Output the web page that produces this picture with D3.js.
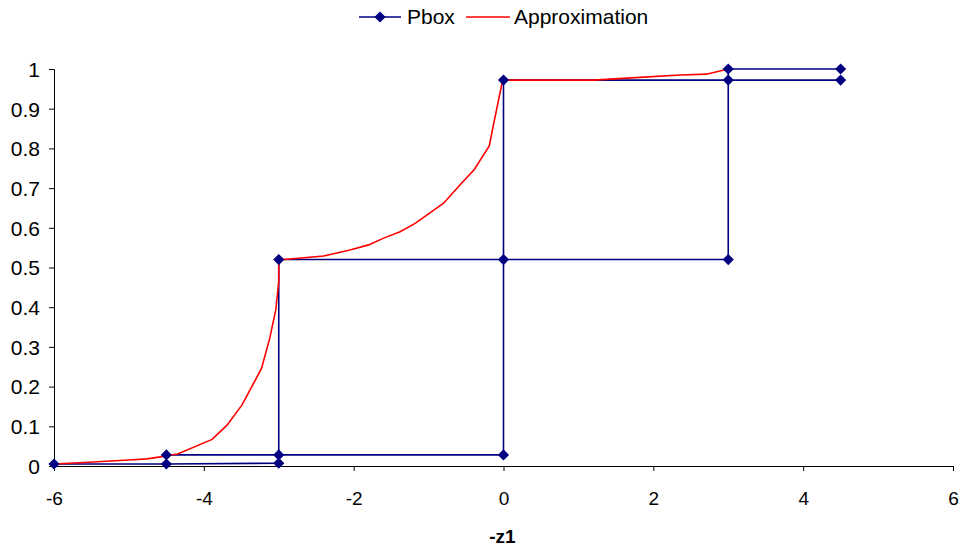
<!DOCTYPE html>
<html><head><meta charset="utf-8">
<script src="https://cdn.jsdelivr.net/npm/d3@7"></script>
<style>body{margin:0;background:#fff;} text{font-family:"Liberation Sans",Arial,sans-serif;}</style>
</head><body>
<svg id="c" width="963" height="550"></svg>
<script>
// Pbox: two step-bound polylines
const pboxUpperX = [-6, -4.5, -3, -3, 0, 3, 3, 4.5];
const pboxUpperY = [0.005, 0.005, 0.007, 0.52, 0.52, 0.52, 1.0, 1.0];
const pboxLowerX = [-4.5, -3, 0, 0, 3, 4.5];
const pboxLowerY = [0.028, 0.028, 0.028, 0.972, 0.972, 0.972];
// Approximation curve
const approxX = [-6, -5.6, -5.3, -5.0, -4.76, -4.58, -4.5, -4.35, -3.89, -3.69, -3.49, -3.23, -3.12, -3.04, -3.0, -3.0,
  -2.4, -2.05, -1.8, -1.6, -1.38, -1.18, -1.0, -0.8, -0.6, -0.39, -0.19, -0.13, -0.02, 0,
  1.2, 1.82, 2.36, 2.71, 3.0];
const approxY = [0.005, 0.009, 0.012, 0.015, 0.018, 0.023, 0.026, 0.030, 0.067, 0.103, 0.154, 0.246, 0.322, 0.393, 0.464, 0.519,
  0.529, 0.544, 0.557, 0.574, 0.590, 0.611, 0.635, 0.662, 0.704, 0.747, 0.806, 0.863, 0.964, 0.972,
  0.972, 0.979, 0.985, 0.987, 1.0];
const xTicks = [-6, -4, -2, 0, 2, 4, 6];
const yTicks = [0, 0.1, 0.2, 0.3, 0.4, 0.5, 0.6, 0.7, 0.8, 0.9, 1];
const seriesNames = ["Pbox", "Approximation"];
const xTitle = "-z1";

const svg = d3.select("#c");
const L = 54, R = 953, T = 69, B = 466;
const x = d3.scaleLinear().domain([-6, 6]).range([L, R]);
const y = d3.scaleLinear().domain([0, 1]).range([B, T]);
const navy = "#000080";
const FONT = "Liberation Sans, Arial, sans-serif";

// axes
const xa = svg.append("g").attr("transform", `translate(0,${B})`)
  .call(d3.axisBottom(x).tickValues(xTicks).tickSize(5).tickPadding(21).tickFormat(d => String(d)));
const ya = svg.append("g").attr("transform", `translate(${L},0)`)
  .call(d3.axisLeft(y).tickValues(yTicks).tickSize(5).tickPadding(9).tickFormat(d => String(d)));
[xa, ya].forEach(a => {
  a.selectAll("path").attr("stroke", "#000").attr("stroke-width", 1);
  a.selectAll("line").attr("stroke", "#000");
  a.selectAll("text").attr("fill", "#000").attr("font-family", FONT);
});
xa.selectAll("text").attr("font-size", 19);
ya.selectAll("text").attr("font-size", 21).attr("dy", "0.35em");

svg.append("text").attr("x", (L + R) / 2 - 1).attr("y", 543).attr("text-anchor", "middle")
  .attr("font-size", 19).attr("font-weight", "bold").attr("font-family", FONT).text(xTitle);

const line = d3.line().x(d => x(d[0])).y(d => y(d[1]));
const upper = pboxUpperX.map((v, i) => [v, pboxUpperY[i]]);
const lower = pboxLowerX.map((v, i) => [v, pboxLowerY[i]]);
const approx = approxX.map((v, i) => [v, approxY[i]]);

[upper, lower].forEach(pts => {
  svg.append("path").datum(pts).attr("d", line).attr("fill", "none").attr("stroke", navy).attr("stroke-width", 1.6);
});
svg.append("path").datum(approx).attr("d", line).attr("fill", "none").attr("stroke", "#ff0000").attr("stroke-width", 1.6);

const diamond = d3.symbol().type(d3.symbolDiamond2).size(80);
const markerPts = upper.concat(lower);
svg.append("g").selectAll("path").data(markerPts).join("path")
  .attr("d", diamond).attr("transform", d => `translate(${x(d[0])},${y(d[1])})`)
  .attr("fill", navy);

// legend
const lg = svg.append("g");
lg.append("line").attr("x1", 359).attr("x2", 401).attr("y1", 17).attr("y2", 17).attr("stroke", navy).attr("stroke-width", 1.6);
lg.append("path").attr("d", diamond).attr("transform", "translate(380,17)").attr("fill", navy);
lg.append("text").attr("x", 407).attr("y", 24).attr("font-size", 21).attr("font-family", FONT).text(seriesNames[0]);
lg.append("line").attr("x1", 466).attr("x2", 510).attr("y1", 17).attr("y2", 17).attr("stroke", "#ff0000").attr("stroke-width", 1.6);
lg.append("text").attr("x", 514).attr("y", 24).attr("font-size", 21).attr("font-family", FONT).text(seriesNames[1]);
</script>
</body></html>
